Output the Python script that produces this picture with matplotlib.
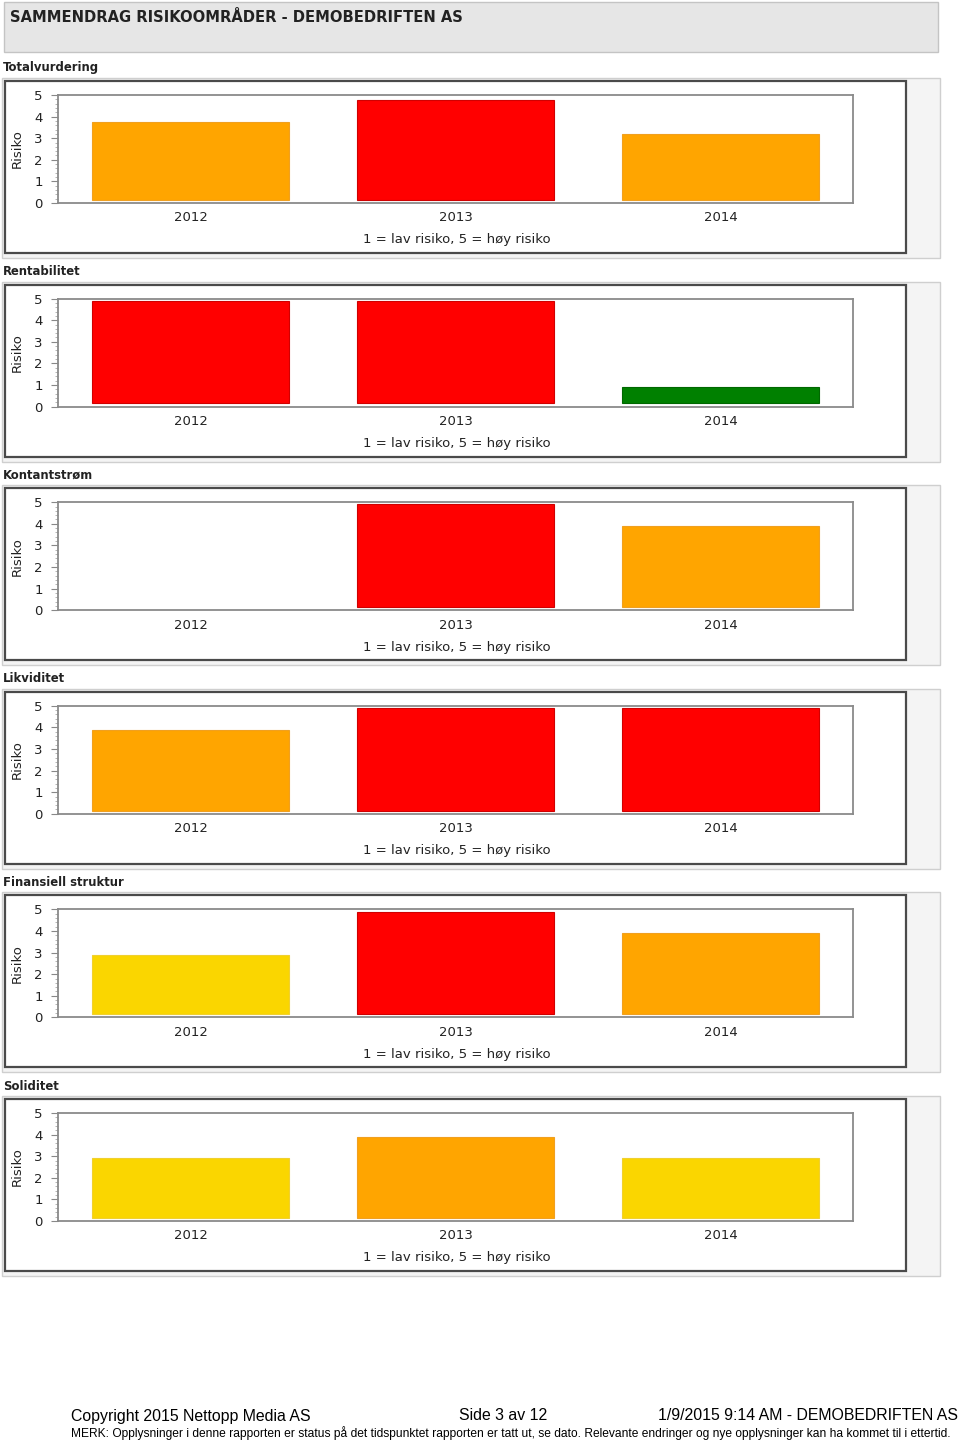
import numpy as np
import matplotlib
matplotlib.use('Agg')
import matplotlib.pyplot as plt
from matplotlib.patches import Rectangle

years = ['2012', '2013', '2014']
sections = ['Totalvurdering', 'Rentabilitet', 'Kontantstrøm',
            'Likviditet', 'Finansiell struktur', 'Soliditet']
totalvurdering = [3.85, 4.85, 3.3]
rentabilitet = [5, 5, 1]
kontantstrom = [np.nan, 5, 4]
likviditet = [4, 5, 5]
finansiell_struktur = [3, 5, 4]
soliditet = [3, 4, 3]
values = [totalvurdering, rentabilitet, kontantstrom,
          likviditet, finansiell_struktur, soliditet]

title = 'SAMMENDRAG RISIKOOMRÅDER - DEMOBEDRIFTEN AS'
caption = '1 = lav risiko, 5 = høy risiko'
footer_left = 'Copyright 2015 Nettopp Media AS'
footer_mid = 'Side 3 av 12'
footer_right = '1/9/2015 9:14 AM - DEMOBEDRIFTEN AS'
footer_note = ('MERK: Opplysninger i denne rapporten er status på det tidspunktet rapporten '
               'er tatt ut, se dato. Relevante endringer og nye opplysninger kan ha kommet til i ettertid.')


def risk_color(v):
    '''Colour of a bar by risk level'''
    if v >= 4.5:
        return '#FF0000', '#d00000'
    if v >= 3.2:
        return '#FFA500', '#f0a020'
    if v >= 2:
        return '#FAD600', '#f0d030'
    return '#008000', '#006800'


W, H = 960, 1441
fig = plt.figure(figsize=(W / 100, H / 100), dpi=100)

# background layer in pixel coordinates
bg = fig.add_axes([0, 0, 1, 1])
bg.set_xlim(0, W)
bg.set_ylim(H, 0)
bg.axis('off')

# header
bg.add_patch(Rectangle((4, 2), 934, 50, facecolor='#e6e6e6', edgecolor='#c4c4c4', lw=1))
bg.text(10, 17, title, fontsize=10.6, fontweight='bold', color='#222222', va='center', ha='left')

step = 203.6
for k, (name, vals) in enumerate(zip(sections, values)):
    off = k * step
    bg.text(3, 68 + off, name, fontsize=8.4, fontweight='bold', color='#222222', va='center')
    bg.add_patch(Rectangle((2, 78 + off), 938, 180, facecolor='#f4f4f4', edgecolor='#cfcfcf', lw=1))
    bg.add_patch(Rectangle((5, 81 + off), 901, 172, facecolor='white', edgecolor='#4a4a4a', lw=1.6))
    bg.text(17, 149 + off, 'Risiko', rotation=90, fontsize=9.5, color='#222222',
            va='center', ha='center')
    bg.text(457, 240 + off, caption, fontsize=9.5, color='#222222', va='center', ha='center')

    # chart area
    top = 95 + off
    ax = fig.add_axes([58 / W, (H - top - 108) / H, 795 / W, 108 / H])
    x = np.arange(len(years))
    for xi, v in zip(x, vals):
        if np.isnan(v):
            continue
        fc, ec = risk_color(v)
        ax.bar(xi, v - 0.25, bottom=0.15, width=0.74, color=fc, edgecolor=ec, lw=0.8)
    ax.set_xlim(-0.5, 2.5)
    ax.set_ylim(0, 5)
    ax.set_xticks(x)
    ax.set_xticklabels(years, fontsize=9.5, color='#222222')
    ax.set_yticks(range(6))
    ax.set_yticklabels([str(i) for i in range(6)], fontsize=9.5, color='#222222')
    ax.set_yticks(np.arange(0, 5.01, 0.2), minor=True)
    ax.tick_params(axis='x', length=0, pad=6)
    ax.tick_params(axis='y', which='major', length=5, color='#888888', pad=6)
    ax.tick_params(axis='y', which='minor', length=2.5, color='#aaaaaa')
    for s in ax.spines.values():
        s.set_color('#8a8a8a')
        s.set_linewidth(1.3)

# footer
bg.text(71, 1416, footer_left, fontsize=11.4, family='Liberation Sans', color='black', va='center')
bg.text(459, 1416, footer_mid, fontsize=11.4, family='Liberation Sans', color='black', va='center')
bg.text(958, 1416, footer_right, fontsize=11.4, family='Liberation Sans', color='black',
        va='center', ha='right')
bg.text(71, 1433, footer_note, fontsize=8.65, family='Liberation Sans', color='black', va='center')

fig.savefig('out.png', dpi=100)
